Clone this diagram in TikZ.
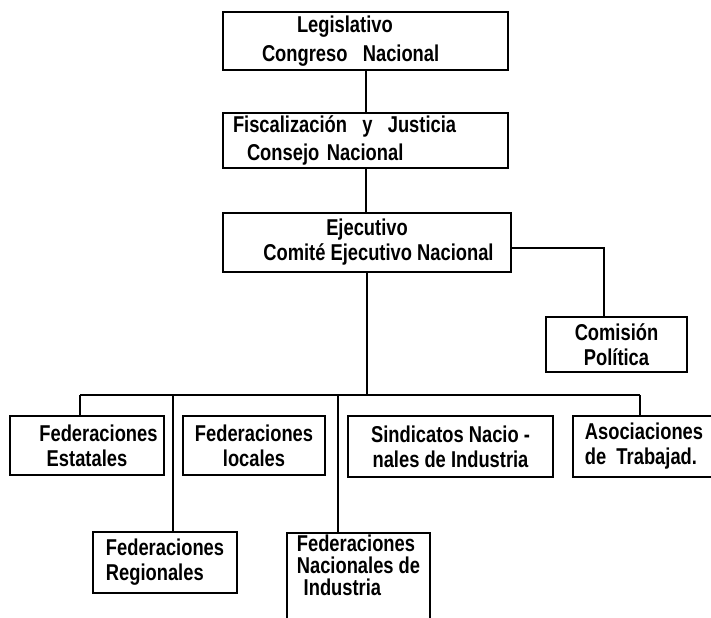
\documentclass[tikz,border=0pt]{standalone}
\usepackage{fontspec}
\setmainfont{Liberation Sans}[FakeStretch=0.8]
\usepackage{tikz}
\usetikzlibrary{positioning,calc}
\tikzset{
  orgbox/.style = {draw, line width=2bp, rectangle, inner sep=2bp,
                   align=center},
  link/.style   = {line width=2bp},
}

\begin{document}
\begin{tikzpicture}[x=1bp,y=-1bp,font=\bfseries\fontsize{23}{25}\selectfont]
\useasboundingbox (0,0) rectangle (711,618);
% top of the chain
\node[orgbox,minimum height=58bp,text width=281bp,align=left,
      font=\bfseries\fontsize{23}{29}\selectfont] (leg) at (365.5,41)
  {\hspace{72bp}Legislativo\\\hspace{37bp}Congreso\ \ Nacional};
\node[orgbox,minimum height=55bp,text width=281bp,align=left,
      font=\bfseries\fontsize{23}{28}\selectfont] (fis) at (365.5,140.5)
  {\hspace{8bp}Fiscalización\ \ y\ \ Justicia\\\hspace{22bp}Consejo Nacional};
\node[orgbox,minimum width=288bp,minimum height=59bp] (eje) at (367,242.5)
  {Ejecutivo\\\hspace{1em}Comité Ejecutivo Nacional};
\node[orgbox,minimum width=141bp,minimum height=55bp] (com) at (616.5,344.5)
  {Comisión\\Política};
% first row below the bus
\node[orgbox,minimum width=154bp,minimum height=59bp] (est) at (87,445.5)
  {\hspace{1em}Federaciones\\Estatales};
\node[orgbox,minimum width=142bp,minimum height=59bp] (loc) at (254,445.5)
  {Federaciones\\locales};
\node[orgbox,minimum width=205bp,minimum height=61bp] (sin) at (450.5,446.5)
  {Sindicatos Nacio -\\nales de Industria};
\node[orgbox,minimum width=142bp,minimum height=61bp,align=left] (aso) at (644,446.5)
  {Asociaciones\\de\ \ Trabajad.};
% second row
\node[orgbox,minimum width=144bp,minimum height=61bp,align=left] (reg) at (165,562.5)
  {Federaciones\\Regionales};
\node[orgbox,minimum width=143bp,align=left,anchor=north,text depth=48bp,
      font=\bfseries\fontsize{23}{22}\selectfont] (nac) at (358.5,532)
  {Federaciones\\Nacionales de\\\hspace{0.3em}Industria};
% connectors
\coordinate (busL) at (80,395);
\coordinate (busR) at (640,395);
\coordinate (pol) at (604,248);
\draw[link] (leg) -- (fis);
\draw[link] (fis.south -| leg) -- (eje.north -| leg);
\draw[link] (eje.south) -- (eje.south |- busL);
\draw[link] (busL) -- (busR);
\draw[link] (busL) -- (busL |- est.north);
\draw[link] (busR) -- (busR |- aso.north);
\draw[link] (173,395) -- (173,395 |- reg.north);
\draw[link] (338,395) -- (338,395 |- nac.north);
\draw[link] (eje.east |- pol) -- (pol) -- (pol |- com.north);
\end{tikzpicture}
\end{document}
